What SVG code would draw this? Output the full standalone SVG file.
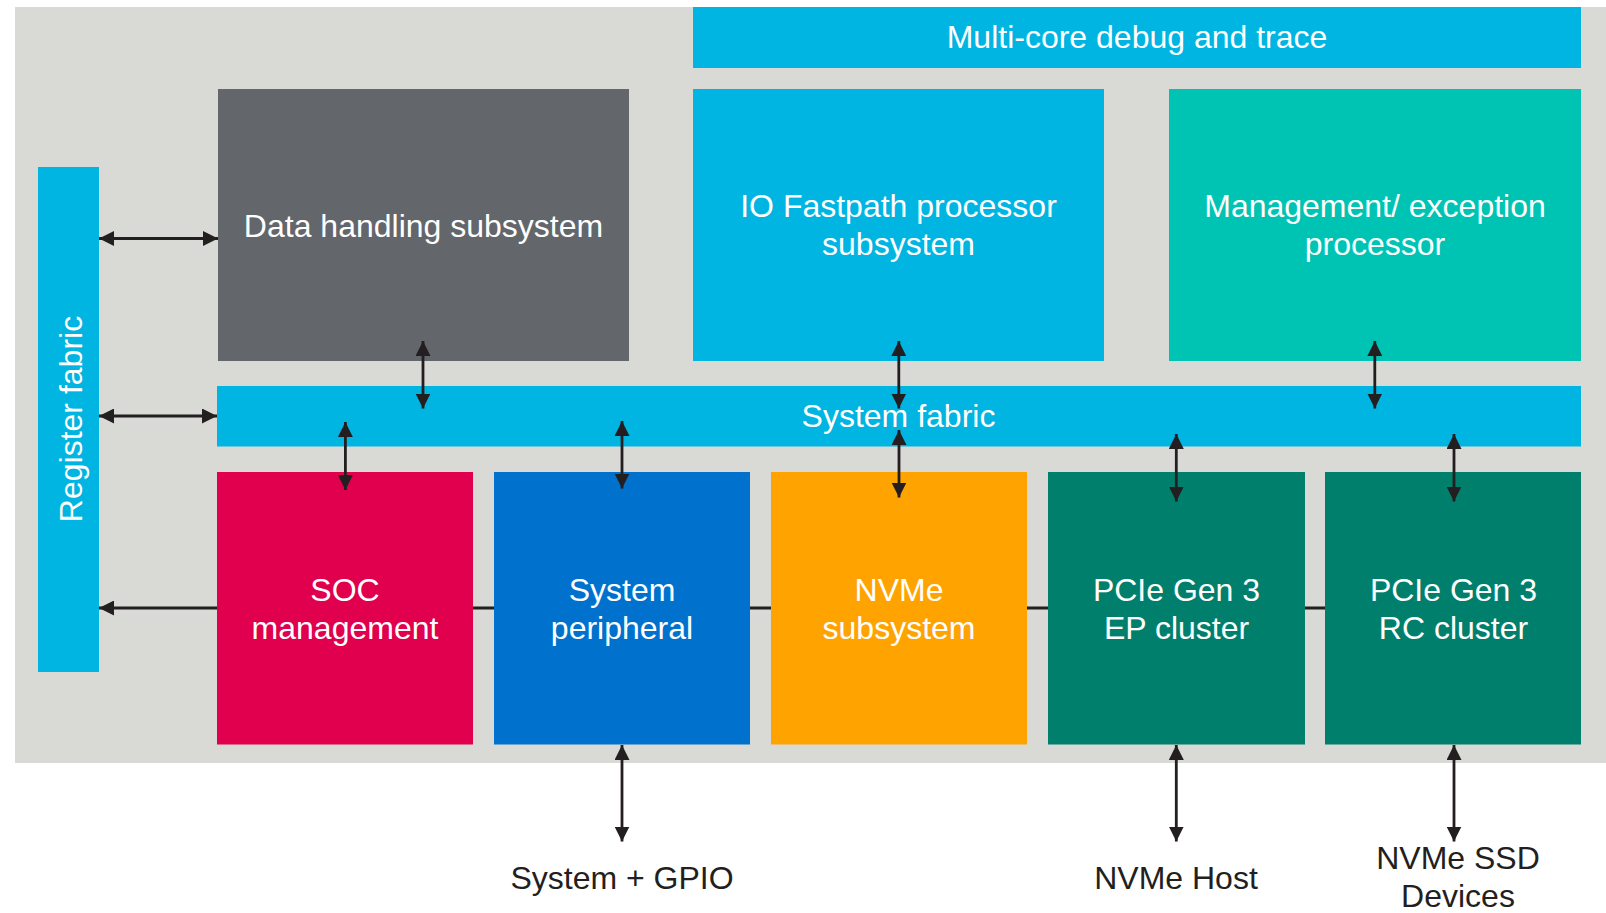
<svg xmlns="http://www.w3.org/2000/svg" width="1606" height="913" viewBox="0 0 1606 913">
  <style>
    .lbl { font-family: "Liberation Sans", Arial, sans-serif; font-size: 32px; fill: #ffffff; text-anchor: middle; }
    .ext { font-family: "Liberation Sans", Arial, sans-serif; font-size: 32px; fill: #231f20; text-anchor: middle; }
    .wire { stroke: #231f20; stroke-width: 2.8; fill: none; }
    .cyan { fill: #00b5e2; }
  </style>
  <defs>
    <marker id="head" viewBox="0 0 15 15" refX="15" refY="7.5" markerWidth="15" markerHeight="15" markerUnits="userSpaceOnUse" orient="auto-start-reverse">
      <path d="M0,0 L15,7.5 L0,15 z" fill="#231f20"/>
    </marker>
  </defs>

  <!-- chip outline -->
  <rect id="chip" x="15" y="7" width="1591" height="756" fill="#d9d9d5"/>

  <!-- bus running behind the lower row of blocks -->
  <g id="connectors-back">
    <line class="wire" x1="99" y1="608" x2="1326" y2="608" marker-start="url(#head)"/>
  </g>

  <g id="register-fabric">
    <rect class="cyan" x="38" y="167" width="61" height="505"/>
    <text class="lbl" transform="translate(81.5,419) rotate(-90)">Register fabric</text>
  </g>

  <g id="debug-trace">
    <rect class="cyan" x="693" y="7" width="888" height="61"/>
    <text class="lbl" x="1137" y="48">Multi-core debug and trace</text>
  </g>

  <g id="data-handling">
    <rect x="218" y="89" width="411" height="272" fill="#63666a"/>
    <text class="lbl" x="423.5" y="237">Data handling subsystem</text>
  </g>

  <g id="io-fastpath">
    <rect class="cyan" x="693" y="89" width="411" height="272"/>
    <text class="lbl" x="898.5" y="217">IO Fastpath processor</text>
    <text class="lbl" x="898.5" y="255">subsystem</text>
  </g>

  <g id="mgmt-processor">
    <rect x="1169" y="89" width="412" height="272" fill="#00c4b3"/>
    <text class="lbl" x="1375" y="217">Management/ exception</text>
    <text class="lbl" x="1375" y="255">processor</text>
  </g>

  <g id="system-fabric">
    <rect class="cyan" x="217" y="386" width="1364" height="60.5"/>
    <text class="lbl" x="898.5" y="427">System fabric</text>
  </g>

  <g id="soc-management">
    <rect x="217" y="472" width="256" height="272.5" fill="#e0004d"/>
    <text class="lbl" x="345" y="601">SOC</text>
    <text class="lbl" x="345" y="639">management</text>
  </g>

  <g id="system-peripheral">
    <rect x="494" y="472" width="256" height="272.5" fill="#0072ce"/>
    <text class="lbl" x="622" y="601">System</text>
    <text class="lbl" x="622" y="639">peripheral</text>
  </g>

  <g id="nvme-subsystem">
    <rect x="771" y="472" width="256" height="272.5" fill="#ffa300"/>
    <text class="lbl" x="899" y="601">NVMe</text>
    <text class="lbl" x="899" y="639">subsystem</text>
  </g>

  <g id="pcie-ep">
    <rect x="1048" y="472" width="257" height="272.5" fill="#00806c"/>
    <text class="lbl" x="1176.5" y="601">PCIe Gen 3</text>
    <text class="lbl" x="1176.5" y="639">EP cluster</text>
  </g>

  <g id="pcie-rc">
    <rect x="1325" y="472" width="256" height="272.5" fill="#00806c"/>
    <text class="lbl" x="1453.5" y="601">PCIe Gen 3</text>
    <text class="lbl" x="1453.5" y="639">RC cluster</text>
  </g>

  <g id="gpio-label"><text class="ext" x="622" y="889">System + GPIO</text></g>
  <g id="host-label"><text class="ext" x="1176" y="889">NVMe Host</text></g>
  <g id="ssd-label">
    <text class="ext" x="1458" y="869">NVMe SSD</text>
    <text class="ext" x="1458" y="907">Devices</text>
  </g>

  <g id="connectors">
    <!-- register fabric links -->
    <line class="wire" x1="99" y1="238.5" x2="218" y2="238.5" marker-start="url(#head)" marker-end="url(#head)"/>
    <line class="wire" x1="99" y1="416" x2="217" y2="416" marker-start="url(#head)" marker-end="url(#head)"/>
    <!-- upper blocks to system fabric -->
    <line class="wire" x1="423" y1="341" x2="423" y2="408.5" marker-start="url(#head)" marker-end="url(#head)"/>
    <line class="wire" x1="898.8" y1="341" x2="898.8" y2="408.5" marker-start="url(#head)" marker-end="url(#head)"/>
    <line class="wire" x1="1374.8" y1="341" x2="1374.8" y2="408.5" marker-start="url(#head)" marker-end="url(#head)"/>
    <!-- system fabric to lower blocks -->
    <line class="wire" x1="345.4" y1="422" x2="345.4" y2="490" marker-start="url(#head)" marker-end="url(#head)"/>
    <line class="wire" x1="622" y1="421" x2="622" y2="488.5" marker-start="url(#head)" marker-end="url(#head)"/>
    <line class="wire" x1="899" y1="430" x2="899" y2="497.5" marker-start="url(#head)" marker-end="url(#head)"/>
    <line class="wire" x1="1176.3" y1="434" x2="1176.3" y2="501.5" marker-start="url(#head)" marker-end="url(#head)"/>
    <line class="wire" x1="1454" y1="434" x2="1454" y2="501.5" marker-start="url(#head)" marker-end="url(#head)"/>
    <!-- external interfaces -->
    <line class="wire" x1="622" y1="745" x2="622" y2="841.5" marker-start="url(#head)" marker-end="url(#head)"/>
    <line class="wire" x1="1176.3" y1="745" x2="1176.3" y2="841.5" marker-start="url(#head)" marker-end="url(#head)"/>
    <line class="wire" x1="1454" y1="745" x2="1454" y2="841.5" marker-start="url(#head)" marker-end="url(#head)"/>
  </g>
</svg>
